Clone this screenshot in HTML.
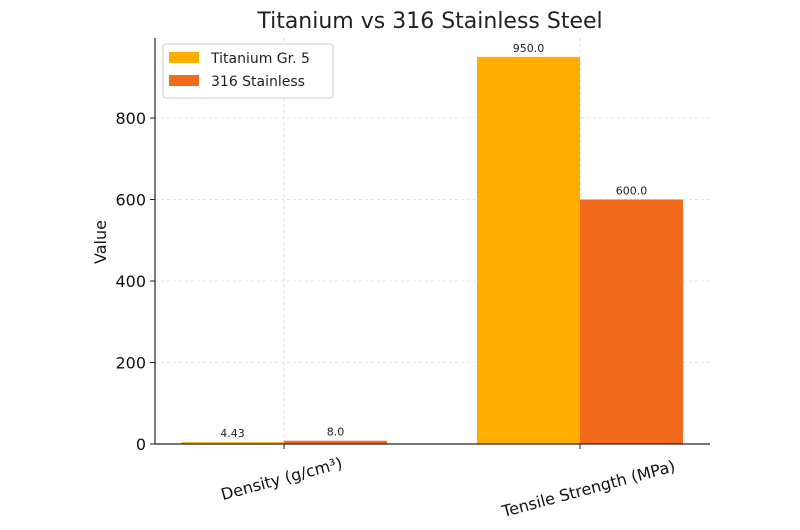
<!DOCTYPE html>
<html><head><meta charset="utf-8"><style>
body{margin:0;background:#fff}
svg{display:block;font-family:"DejaVu Sans","Liberation Sans",sans-serif}
</style></head><body>
<svg id="chart" width="800" height="530">
<text x="430" y="28" font-size="22" text-anchor="middle" fill="#222">Titanium vs 316 Stainless Steel</text>
<g id="grid"></g>
<g id="bars"></g>
<g id="axes"></g>
<text transform="translate(106,242) rotate(-90)" font-size="16" text-anchor="middle" fill="#111">Value</text>
<g>
<rect x="163" y="44" width="170" height="54" rx="3" fill="#fff" stroke="#ccc"/>
<rect x="169" y="52" width="30" height="11" fill="#FFAE00"/>
<text x="211" y="63" font-size="14" fill="#222">Titanium Gr. 5</text>
<rect x="169" y="75" width="30" height="11" fill="#F26B1D"/>
<text x="211" y="86" font-size="14" fill="#222">316 Stainless</text>
</g>
</svg>
<script>
const categories=["Density (g/cm³)","Tensile Strength (MPa)"];
const titanium=[4.43,950];
const stainless=[8.0,600];
const valueLabels1=["4.43","950.0"];
const valueLabels2=["8.0","600.0"];
const yTicks=[0,200,400,600,800];
const NS="http://www.w3.org/2000/svg";
const x0=155,x1=710,yBase=444,pxPer=326/800;
const y=v=>yBase-v*pxPer;
const catX=i=>284+i*296;
const bw=103;
function mk(tag,attrs,parent,text){const e=document.createElementNS(NS,tag);for(const k in attrs)e.setAttribute(k,attrs[k]);if(text!==undefined)e.textContent=text;document.getElementById(parent).appendChild(e);return e;}
yTicks.forEach(t=>{
 const g=mk('line',{x1:x0,x2:x1,y1:y(t),y2:y(t),stroke:'#ddd','stroke-dasharray':'3,3','stroke-width':0.8},'grid');
 
 
 const tk=mk('line',{x1:x0-5,x2:x0,y1:y(t),y2:y(t),stroke:'#222'},'axes');
 
 
 const l=mk('text',{x:x0-9,y:y(t)+6,'font-size':16,'text-anchor':'end',fill:'#111'},'axes',String(t));
 
 
});
categories.forEach((c,i)=>{
 const cx=catX(i);
 const gl=mk('line',{x1:cx,x2:cx,y1:38,y2:yBase,stroke:'#ccc','stroke-dasharray':'3,3','stroke-width':0.8},'grid');
 
 
 const b1=mk('rect',{x:cx-bw,y:y(titanium[i]),width:bw,height:titanium[i]*pxPer,fill:'#FFAE00'},'bars');
 
 
 const b2=mk('rect',{x:cx,y:y(stainless[i]),width:bw,height:stainless[i]*pxPer,fill:'#F26B1D'},'bars');
 
 
 const v1=mk('text',{x:cx-bw/2,y:y(titanium[i])-5,'font-size':11,'text-anchor':'middle',fill:'#222'},'bars',valueLabels1[i]);
 
 
 const v2=mk('text',{x:cx+bw/2,y:y(stainless[i])-5,'font-size':11,'text-anchor':'middle',fill:'#222'},'bars',valueLabels2[i]);
 
 
 const tk=mk('line',{x1:cx,x2:cx,y1:yBase,y2:yBase+5,stroke:'#222'},'axes');
 
 
 const lx=cx+(i?10:-1),ly=yBase+(i?50:40);
 const l=mk('text',{x:lx,y:ly,'font-size':16,'text-anchor':'middle',fill:'#111',transform:`rotate(-15 ${lx} ${ly})`},'axes',c);
 
 
});
const la=mk('line',{x1:x0,x2:x0,y1:38,y2:yBase,stroke:'#222','stroke-width':1.2},'axes');


const ba=mk('line',{x1:x0,x2:x1,y1:yBase,y2:yBase,stroke:'#222','stroke-width':1.2},'axes');


</script>
</body></html>
